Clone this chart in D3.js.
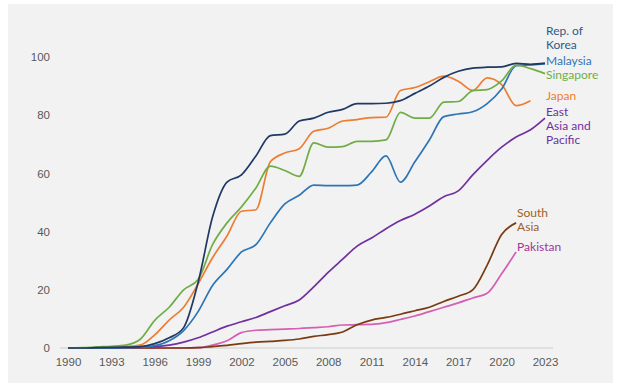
<!DOCTYPE html>
<html>
<head>
<meta charset="utf-8">
<script src="https://cdn.jsdelivr.net/npm/d3@7"></script>
<style>
  body { margin: 0; background: #fff; }
  svg { display: block; }
</style>
</head>
<body>
<script>
var width = 619, height = 387;

// years on the x axis
var years = d3.range(1990, 2024);
var tickYears = [1990, 1993, 1996, 1999, 2002, 2005, 2008, 2011, 2014, 2017, 2020, 2023];
var tickValues = [0, 20, 40, 60, 80, 100];

// series values, one per year starting 1990
var korea = [0, 0, 0.1, 0.2, 0.3, 0.5, 1.5, 3.5, 7, 22.5, 45, 57, 59.5, 66, 73, 73.5, 78, 79, 81, 82, 84, 84, 84.1, 85, 87.5, 90, 93, 95.1, 96.2, 96.5, 96.6, 97.8, 97.5, 97.9];
var malaysia = [0, 0, 0, 0, 0.1, 0.2, 0.8, 2.5, 6, 12.5, 21.5, 27, 33, 35.5, 43, 49.5, 52.5, 56, 55.8, 55.8, 56, 60.5, 66, 57, 64, 71.5, 79.5, 80.4, 81.2, 84, 89, 97, 97.3, 97.6];
var singapore = [0, 0.1, 0.4, 0.6, 1, 3, 9.5, 14, 20, 23.5, 35.5, 43, 48.5, 55, 62.5, 61, 59, 70.5, 69, 69.2, 71, 71, 71.5, 81, 79, 79, 84.5, 84.7, 88.4, 88.8, 91.8, 97.2, 96, 94.3];
var japan = [0, 0, 0.1, 0.3, 0.5, 1, 4.5, 9.6, 14, 22, 31, 38.5, 47, 47.5, 64, 67, 68.5, 74.5, 75.5, 78, 78.5, 79.2, 79.3, 88.5, 89.5, 91.5, 93.4, 91.7, 88.5, 92.8, 90.5, 83.3, 85];
var eastAsia = [0, 0, 0, 0.1, 0.2, 0.3, 0.5, 1, 2, 3.5, 5.5, 7.5, 9, 10.5, 12.5, 14.5, 16.5, 21, 26, 30.5, 35, 37.8, 41, 43.8, 46, 48.8, 52, 54, 59.5, 64.5, 69, 72.5, 75, 79];
var southAsia = [0, 0, 0, 0, 0, 0, 0, 0, 0, 0.1, 0.5, 0.9, 1.5, 2, 2.3, 2.6, 3.1, 4, 4.6, 5.5, 8, 9.6, 10.5, 11.6, 12.8, 14, 16, 17.8, 20, 28.5, 39, 43];
var pakistan = [0, 0, 0, 0, 0, 0, 0, 0, 0, 0.1, 1, 2.5, 5.3, 6.1, 6.3, 6.5, 6.7, 7, 7.3, 7.9, 8, 8.1, 8.7, 9.8, 11, 12.5, 14, 15.5, 17.2, 18.8, 25.5, 33];

var seriesNames = ['Pakistan', 'South Asia', 'East Asia and Pacific', 'Japan', 'Malaysia', 'Singapore', 'Rep. of Korea'];
var seriesValues = [pakistan, southAsia, eastAsia, japan, malaysia, singapore, korea];
var lineColors = ['#d55fb4', '#7a3b12', '#7030a0', '#ed7d31', '#2e75b6', '#70ad47', '#1f3864'];
var labelColors = ['#a3329a', '#9a6128', '#7030a0', '#f07b2c', '#2e75b6', '#70ad47', '#2f5a82'];

// label lines, and the year / value they sit at
var labelLines = [['Pakistan'], ['South', 'Asia'], ['East', 'Asia and', 'Pacific'], ['Japan'], ['Malaysia'], ['Singapore'], ['Rep. of', 'Korea']];
var labelYear = [2021, 2021, 2023, 2023, 2023, 2023, 2023];
var labelAt = [34.7, 46.4, 81.1, 86.6, 98.6, 93.8, 108.9];

var svg = d3.select('body').append('svg')
  .attr('width', width)
  .attr('height', height);

svg.append('rect')
  .attr('x', 8).attr('y', 4)
  .attr('width', 605).attr('height', 379)
  .attr('fill', '#f2f2f2');

var x = d3.scaleLinear().domain([1990, 2023]).range([68, 545]);
var y = d3.scaleLinear().domain([0, 100]).range([348, 57]);

// baseline
svg.append('line')
  .attr('x1', 60).attr('x2', 553)
  .attr('y1', y(0)).attr('y2', y(0))
  .attr('stroke', '#d9d9d9')
  .attr('stroke-width', 1.5);

var xAxis = d3.axisBottom(x).tickValues(tickYears).tickFormat(d3.format('d')).tickSize(0).tickPadding(10);
var gx = svg.append('g').attr('transform', 'translate(0,' + y(0) + ')').call(xAxis);
gx.select('.domain').remove();
gx.selectAll('text')
  .attr('fill', '#595959')
  .style('font-family', '"Liberation Sans", Arial, sans-serif')
  .style('font-size', '11.5px');

var yAxis = d3.axisLeft(y).tickValues(tickValues).tickSize(0).tickPadding(0);
var gy = svg.append('g').attr('transform', 'translate(50,0)').call(yAxis);
gy.select('.domain').remove();
gy.selectAll('text')
  .attr('fill', '#595959')
  .style('font-family', '"Liberation Sans", Arial, sans-serif')
  .style('font-size', '11.5px');

var line = d3.line()
  .x(function(d, i) { return x(years[i]); })
  .y(function(d) { return y(d); })
  .curve(d3.curveMonotoneX);

seriesValues.forEach(function(vals, k) {
  svg.append('path')
    .attr('d', line(vals))
    .attr('fill', 'none')
    .attr('stroke', lineColors[k])
    .attr('stroke-width', 1.7)
    .attr('stroke-linejoin', 'round');

  var lx = x(labelYear[k]) + 1;
  var t = svg.append('text')
    .attr('x', lx)
    .attr('y', y(labelAt[k]))
    .attr('fill', labelColors[k])
    .style('font-family', 'Lato, sans-serif')
    .style('font-size', '12px');
  labelLines[k].forEach(function(s, j) {
    t.append('tspan')
      .attr('x', lx)
      .attr('dy', j == 0 ? '0.35em' : '14px')
      .text(s);
  });
});
</script>
</body>
</html>
